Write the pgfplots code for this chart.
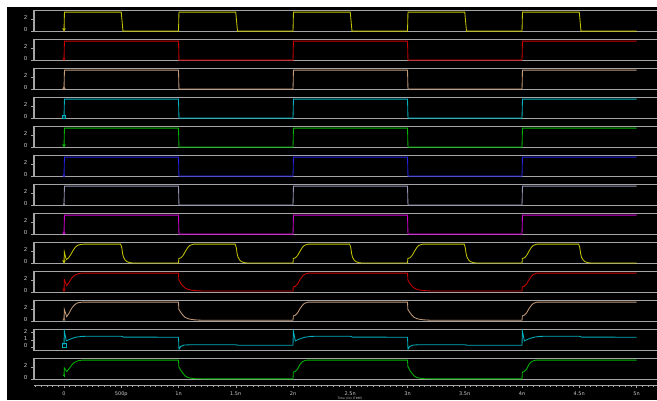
\documentclass[border=0pt]{standalone}
\usepackage{fontspec}
\setmainfont{DejaVu Sans}
\usepackage{pgfplots}
\pgfplotsset{compat=1.18}
\definecolor{boxgray}{RGB}{165,165,165}
\definecolor{labgray}{RGB}{205,205,205}
\definecolor{sigyellow}{RGB}{195,195,0}
\definecolor{sigred}{RGB}{200,0,0}
\definecolor{sigtan}{RGB}{195,155,120}
\definecolor{sigcyan}{RGB}{0,175,190}
\definecolor{siggreen}{RGB}{0,180,0}
\definecolor{sigblue}{RGB}{35,35,225}
\definecolor{siggray}{RGB}{150,150,180}
\definecolor{sigmag}{RGB}{210,0,210}
\pgfplotsset{
  panel/.style={at={(34pt,#1)}, anchor=south west, scale only axis,
    width=626pt, height=21pt, xmin=-0.262, xmax=5.205, ymin=-0.1, ymax=3.5,
    xtick=\empty, ytick={0,2}, ytick pos=left,
    axis line style={draw=boxgray, line width=1.1pt},
    tick style={draw=boxgray, line width=0.5pt}, tick align=outside,
    major tick length=2.5pt,
    yticklabel style={font=\fontsize{5.5}{6}\selectfont, text=labgray, yshift=1.5pt, xshift=-0.5pt},
    /pgf/number format/assume math mode=true,
    every axis plot/.append style={line width=0.85pt}},
  mk/.style={only marks, mark size=1.3pt, mark options={solid, line width=0.5pt}}
}
\begin{document}
\begin{tikzpicture}
\useasboundingbox (0,0) rectangle (657pt,400pt);
\fill[white] (0,0) rectangle (657pt,400pt);
\fill[black] (7pt,0) rectangle (657pt,393pt);

% 1 clock
\begin{axis}[panel=368.3pt]
\addplot[sigyellow] coordinates {(0,0)(0.004,3.25)(0.5,3.25)(0.515,0)(1,0)(1.004,3.25)(1.5,3.25)(1.515,0)(2,0)(2.004,3.25)(2.5,3.25)(2.515,0)(3,0)(3.004,3.25)(3.5,3.25)(3.515,0)(4,0)(4.004,3.25)(4.5,3.25)(4.515,0)(5,0)};
\addplot[sigyellow, mk, mark=triangle, mark options={rotate=180}] coordinates {(0,0.3)};
\end{axis}
% 2
\begin{axis}[panel=339.3pt]
\addplot[sigred] coordinates {(0,0)(0.004,3.25)(1,3.25)(1.004,0)(2,0)(2.004,3.25)(3,3.25)(3.004,0)(4,0)(4.004,3.25)(5,3.25)};
\addplot[sigred, mk, mark=o] coordinates {(0,0.2)};
\end{axis}
% 3
\begin{axis}[panel=310.3pt]
\addplot[sigtan] coordinates {(0,0)(0.004,3.25)(1,3.25)(1.004,0)(2,0)(2.004,3.25)(3,3.25)(3.004,0)(4,0)(4.004,3.25)(5,3.25)};
\addplot[sigtan, mk, mark=triangle] coordinates {(0,0.2)};
\end{axis}
% 4
\begin{axis}[panel=281.3pt]
\addplot[sigcyan] coordinates {(0,0)(0.004,3.25)(1,3.25)(1.004,0)(2,0)(2.004,3.25)(3,3.25)(3.004,0)(4,0)(4.004,3.25)(5,3.25)};
\addplot[sigcyan, mk, mark=square] coordinates {(0,0.25)};
\end{axis}
% 5
\begin{axis}[panel=252.3pt]
\addplot[siggreen] coordinates {(0,0)(0.004,3.25)(1,3.25)(1.004,0)(2,0)(2.004,3.25)(3,3.25)(3.004,0)(4,0)(4.004,3.25)(5,3.25)};
\addplot[siggreen, mk, mark=triangle, mark options={rotate=180}] coordinates {(0,0.3)};
\end{axis}
% 6
\begin{axis}[panel=223.3pt]
\addplot[sigblue] coordinates {(0,0)(0.004,3.25)(1,3.25)(1.004,0)(2,0)(2.004,3.25)(3,3.25)(3.004,0)(4,0)(4.004,3.25)(5,3.25)};
\addplot[sigblue, mk, mark=diamond] coordinates {(0,0.1)};
\end{axis}
% 7
\begin{axis}[panel=194.3pt]
\addplot[siggray] coordinates {(0,0)(0.004,3.25)(1,3.25)(1.004,0)(2,0)(2.004,3.25)(3,3.25)(3.004,0)(4,0)(4.004,3.25)(5,3.25)};
\addplot[siggray, mk, mark=x] coordinates {(0,0.1)};
\end{axis}
% 8
\begin{axis}[panel=165.3pt]
\addplot[sigmag] coordinates {(0,0)(0.004,3.25)(1,3.25)(1.004,0)(2,0)(2.004,3.25)(3,3.25)(3.004,0)(4,0)(4.004,3.25)(5,3.25)};
\addplot[sigmag, mk, mark=triangle] coordinates {(0,0.2)};
\end{axis}
% 9 analog clock
\begin{axis}[panel=136.3pt]
\addplot[sigyellow] coordinates {(0,0.02)(0.003,1.9)(0.02,0.6)(0.04,0.9)(0.06,1.5)(0.08,2.2)(0.10,2.75)(0.12,3.05)(0.14,3.18)(0.17,3.25)(0.495,3.25)(0.505,2.6)(0.512,1.6)(0.52,1.0)(0.535,0.5)(0.55,0.25)(0.575,0.08)(0.6,0.02)
(1.0,0.02)(1.003,0.8)(1.02,0.9)(1.04,1.3)(1.06,2.0)(1.08,2.65)(1.10,3.05)(1.13,3.25)(1.495,3.25)(1.505,2.6)(1.512,1.6)(1.52,1.0)(1.535,0.5)(1.55,0.25)(1.575,0.08)(1.6,0.02)
(2.0,0.02)(2.003,0.8)(2.02,0.9)(2.04,1.3)(2.06,2.0)(2.08,2.65)(2.10,3.05)(2.13,3.25)(2.495,3.25)(2.505,2.6)(2.512,1.6)(2.52,1.0)(2.535,0.5)(2.55,0.25)(2.575,0.08)(2.6,0.02)
(3.0,0.02)(3.003,0.8)(3.02,0.9)(3.04,1.3)(3.06,2.0)(3.08,2.65)(3.10,3.05)(3.13,3.25)(3.495,3.25)(3.505,2.6)(3.512,1.6)(3.52,1.0)(3.535,0.5)(3.55,0.25)(3.575,0.08)(3.6,0.02)
(4.0,0.02)(4.003,0.8)(4.02,0.9)(4.04,1.3)(4.06,2.0)(4.08,2.65)(4.10,3.05)(4.13,3.25)(4.495,3.25)(4.505,2.6)(4.512,1.6)(4.52,1.0)(4.535,0.5)(4.55,0.25)(4.575,0.08)(4.6,0.02)(5.0,0.02)};
\addplot[sigyellow, mk, mark=triangle, mark options={rotate=180}] coordinates {(0,0.3)};
\end{axis}
% 10 analog red
\begin{axis}[panel=107.3pt]
\addplot[sigred] coordinates {(0,0.1)(0.003,2.1)(0.024,1.1)(0.045,1.7)(0.067,2.4)(0.09,2.85)(0.11,3.05)(0.13,3.18)(0.16,3.25)(1.0,3.25)(1.003,2.1)(1.02,1.5)(1.035,1.1)(1.057,0.7)(1.08,0.5)(1.1,0.38)(1.14,0.27)(1.2,0.2)(2.0,0.2)(2.003,0.9)(2.02,1.0)(2.04,1.4)(2.06,2.1)(2.08,2.65)(2.10,3.05)(2.13,3.25)(3.0,3.25)(3.003,2.1)(3.02,1.5)(3.035,1.1)(3.057,0.7)(3.08,0.5)(3.1,0.38)(3.14,0.27)(3.2,0.2)(4.0,0.2)(4.003,0.9)(4.02,1.0)(4.04,1.4)(4.06,2.1)(4.08,2.65)(4.10,3.05)(4.13,3.25)(5.0,3.25)};
\addplot[sigred, mk, mark=o] coordinates {(0,0.4)};
\end{axis}
% 11 analog tan
\begin{axis}[panel=78.3pt]
\addplot[sigtan] coordinates {(0,0.1)(0.003,2.0)(0.024,0.75)(0.045,1.4)(0.067,2.2)(0.09,2.75)(0.11,3.05)(0.13,3.18)(0.16,3.25)(1.0,3.25)(1.003,2.0)(1.02,1.5)(1.035,1.1)(1.057,0.65)(1.08,0.45)(1.1,0.33)(1.14,0.22)(1.2,0.15)(2.0,0.15)(2.003,0.9)(2.02,1.0)(2.04,1.4)(2.06,2.1)(2.08,2.65)(2.10,3.05)(2.13,3.25)(3.0,3.25)(3.003,2.0)(3.02,1.5)(3.035,1.1)(3.057,0.65)(3.08,0.45)(3.1,0.33)(3.14,0.22)(3.2,0.15)(4.0,0.15)(4.003,0.9)(4.02,1.0)(4.04,1.4)(4.06,2.1)(4.08,2.65)(4.10,3.05)(4.13,3.25)(5.0,3.25)};
\addplot[sigtan, mk, mark=triangle] coordinates {(0,0.3)};
\end{axis}
% 12 analog cyan
\begin{axis}[panel=49.3pt, ymin=-0.5, ymax=2.4, ytick={0,1,2}]
\addplot[sigcyan] coordinates {(0,0.27)(0.003,2.25)(0.02,0.85)(0.04,1.0)(0.07,1.2)(0.11,1.38)(0.16,1.48)(0.25,1.5)(0.5,1.5)(0.52,1.38)(1.0,1.36)(1.004,-0.3)(1.02,0.1)(1.05,0.28)(1.1,0.32)(1.5,0.32)(1.52,0.26)(2.0,0.25)
(2.003,2.25)(2.02,0.85)(2.04,1.0)(2.07,1.2)(2.11,1.38)(2.16,1.48)(2.25,1.5)(2.5,1.5)(2.52,1.38)(3.0,1.36)(3.004,-0.3)(3.02,0.1)(3.05,0.28)(3.1,0.32)(3.5,0.32)(3.52,0.26)(4.0,0.25)
(4.003,2.25)(4.02,0.85)(4.04,1.0)(4.07,1.2)(4.11,1.38)(4.16,1.48)(4.25,1.5)(4.5,1.5)(4.52,1.38)(5.0,1.36)};
\addplot[sigcyan, mk, mark=square, mark size=1.8pt] coordinates {(0,0.27)};
\end{axis}
% 13 analog green
\begin{axis}[panel=20.3pt]
\addplot[siggreen] coordinates {(0,0.5)(0.003,1.9)(0.024,1.3)(0.045,1.8)(0.067,2.4)(0.09,2.85)(0.11,3.05)(0.13,3.18)(0.16,3.25)(1.0,3.25)(1.003,2.1)(1.02,1.5)(1.035,1.1)(1.057,0.55)(1.08,0.3)(1.1,0.18)(1.14,0.08)(1.2,0.05)(2.0,0.05)(2.003,1.2)(2.02,1.3)(2.04,1.7)(2.06,2.5)(2.08,2.95)(2.10,3.15)(2.12,3.25)(3.0,3.25)(3.003,2.2)(3.02,1.5)(3.035,1.1)(3.057,0.55)(3.08,0.3)(3.1,0.18)(3.14,0.08)(3.2,0.05)(4.0,0.05)(4.003,1.2)(4.02,1.3)(4.04,1.7)(4.06,2.5)(4.08,2.95)(4.10,3.15)(4.12,3.25)(5.0,3.25)};
\addplot[siggreen, mk, mark=+] coordinates {(0,0.6)};
\end{axis}
% time axis
\begin{axis}[at={(34pt,15pt)}, anchor=south west, scale only axis,
  width=626pt, height=8pt, xmin=-0.262, xmax=5.205, ymin=0, ymax=1,
  axis x line=bottom, axis y line=none,
  x axis line style={-, draw=boxgray, line width=1pt},
  xtick={0,0.5,1,1.5,2,2.5,3,3.5,4,4.5,5},
  xticklabels={0,500p,1n,1.5n,2n,2.5n,3n,3.5n,4n,4.5n,5n},
  minor xtick={-0.25,-0.2,-0.15,-0.1,-0.05,0.05,0.1,0.15,0.2,0.25,0.3,0.35,0.4,0.45,0.55,0.6,0.65,0.7,0.75,0.8,0.85,0.9,0.95,1.05,1.1,1.15,1.2,1.25,1.3,1.35,1.4,1.45,1.55,1.6,1.65,1.7,1.75,1.8,1.85,1.9,1.95,2.05,2.1,2.15,2.2,2.25,2.3,2.35,2.4,2.45,2.55,2.6,2.65,2.7,2.75,2.8,2.85,2.9,2.95,3.05,3.1,3.15,3.2,3.25,3.3,3.35,3.4,3.45,3.55,3.6,3.65,3.7,3.75,3.8,3.85,3.9,3.95,4.05,4.1,4.15,4.2,4.25,4.3,4.35,4.4,4.45,4.55,4.6,4.65,4.7,4.75,4.8,4.85,4.9,4.95,5.05,5.1,5.15},
  tick align=outside, major tick length=3pt, minor tick length=1.8pt,
  tick style={draw=boxgray, line width=0.5pt},
  xticklabel style={font=\fontsize{5}{6}\selectfont, text=labgray, yshift=0pt},
  /pgf/number format/assume math mode=true]
\end{axis}
\node[anchor=south, font=\fontsize{3}{3.5}\selectfont, text=labgray, inner sep=0.2pt] at (350pt,0pt) {Time (lin) (TIME)};
\end{tikzpicture}
\end{document}
